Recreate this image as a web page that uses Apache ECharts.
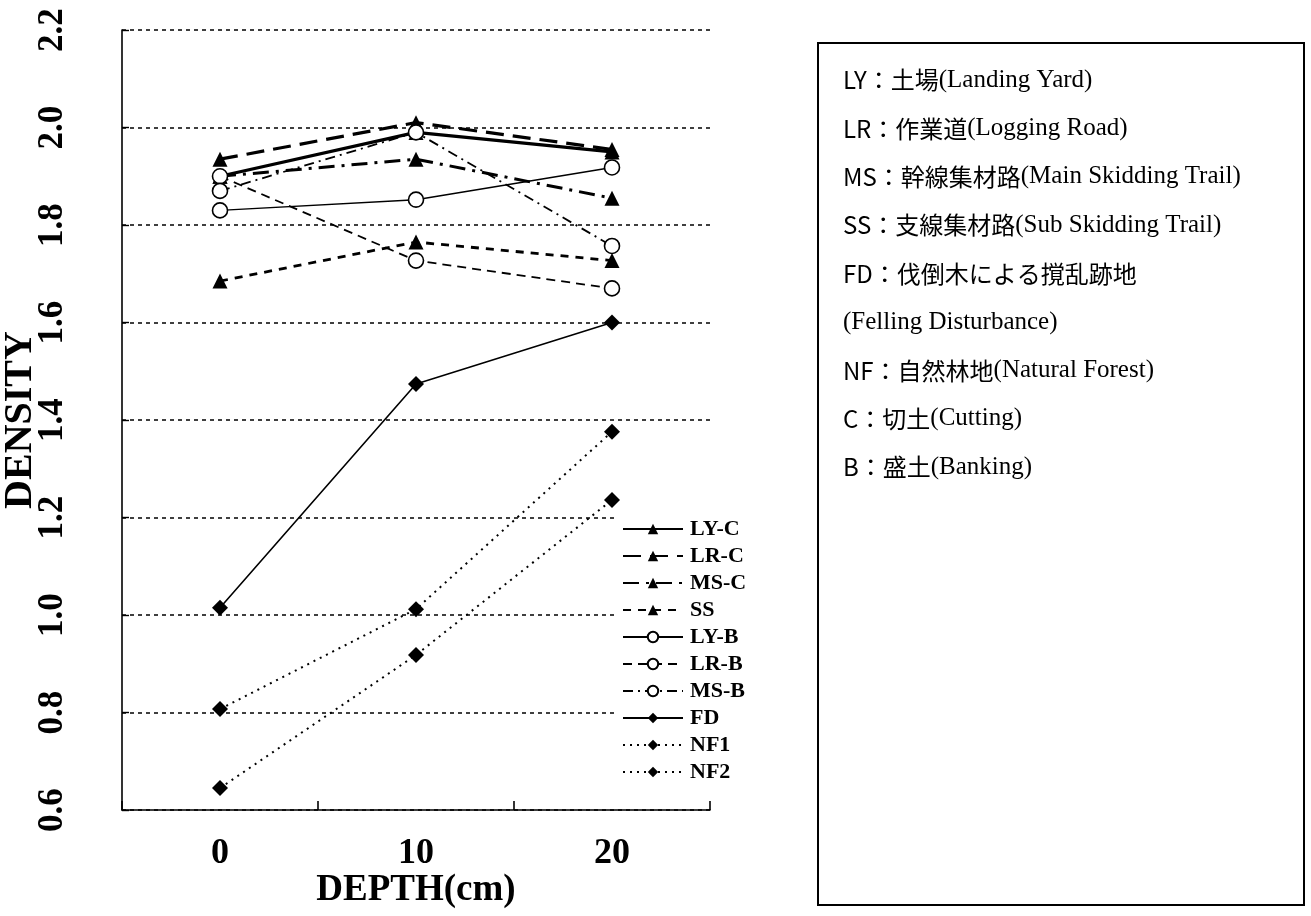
<!DOCTYPE html>
<html>
<head>
<meta charset="utf-8">
<script src="https://cdn.jsdelivr.net/npm/echarts@6/dist/echarts.min.js"></script>
<style>
  html, body { margin: 0; padding: 0; background: #fff; }
  #chart { width: 1311px; height: 916px; }
</style>
</head>
<body>
<div id="chart"></div>
<script>
// Soil bulk density by depth for each site type
const depthLabels = ['0', '10', '20'];

const lyC = [1.90, 1.99, 1.95];
const lrC = [1.935, 2.01, 1.955];
const msC = [1.90, 1.935, 1.855];
const ss  = [1.685, 1.765, 1.727];
const lyB = [1.83, 1.852, 1.918];
const lrB = [1.90, 1.727, 1.67];
const msB = [1.87, 1.99, 1.757];
const fd  = [1.015, 1.474, 1.60];
const nf1 = [0.807, 1.012, 1.376];
const nf2 = [0.645, 0.918, 1.236];

const densityTicks = { min: 0.6, max: 2.2, step: 0.2 };

// Site abbreviations shown in the side panel: [abbreviation part, English part]
const noteLines = [
  ['LY：土場', '(Landing Yard)'],
  ['LR：作業道', '(Logging Road)'],
  ['MS：幹線集材路', '(Main Skidding Trail)'],
  ['SS：支線集材路', '(Sub Skidding Trail)'],
  ['FD：伐倒木による撹乱跡地', ''],
  ['', '(Felling Disturbance)'],
  ['NF：自然林地', '(Natural Forest)'],
  ['C：切土', '(Cutting)'],
  ['B：盛土', '(Banking)']
];

const SERIF = "'Liberation Serif', 'Times New Roman', serif";
const SANS = "'Noto Sans CJK JP', 'Noto Sans', sans-serif";

function lineSeries(name, data, symbol, filled, width, dash) {
  return {
    name: name,
    type: 'line',
    data: data,
    symbol: symbol,
    symbolSize: symbol === 'circle' ? 15 : (symbol === 'diamond' ? 16 : 15),
    showSymbol: true,
    lineStyle: { color: '#000', width: width, type: dash },
    itemStyle: filled
      ? { color: '#000', borderColor: '#000', borderWidth: 0 }
      : { color: '#fff', borderColor: '#000', borderWidth: 1.6 },
    emphasis: { disabled: true },
    animation: false
  };
}

const series = [
  lineSeries('LY-C', lyC, 'triangle', true, 3.2, 'solid'),
  lineSeries('LR-C', lrC, 'triangle', true, 3.2, [18, 9]),
  lineSeries('MS-C', msC, 'triangle', true, 3, [16, 7, 3, 7]),
  lineSeries('SS', ss, 'triangle', true, 2.8, [8, 7]),
  lineSeries('LY-B', lyB, 'circle', false, 1.5, 'solid'),
  lineSeries('LR-B', lrB, 'circle', false, 1.8, [9, 6]),
  lineSeries('MS-B', msB, 'circle', false, 1.8, [10, 5, 2, 5]),
  lineSeries('FD', fd, 'diamond', true, 1.6, 'solid'),
  lineSeries('NF1', nf1, 'diamond', true, 2, [2, 5]),
  lineSeries('NF2', nf2, 'diamond', true, 2, [2, 5])
];

const noteElements = [
  {
    type: 'rect',
    shape: { x: 818, y: 43, width: 486, height: 862 },
    style: { fill: '#fff', stroke: '#000', lineWidth: 2 },
    silent: true
  }
];
noteLines.forEach(function (pair, i) {
  noteElements.push({
    type: 'text',
    x: 843,
    y: 80 + i * 48.4,
    silent: true,
    style: {
      text: (pair[0] ? '{a|' + pair[0] + '}' : '') + (pair[1] ? '{b|' + pair[1] + '}' : ''),
      verticalAlign: 'middle',
      align: 'left',
      rich: {
        a: { fontFamily: SANS, fontSize: 24, fill: '#000' },
        b: { fontFamily: SERIF, fontSize: 25, fill: '#000' }
      }
    }
  });
});

const chart = echarts.init(document.getElementById('chart'), null, { renderer: 'canvas' });
chart.setOption({
  backgroundColor: '#fff',
  animation: false,
  grid: { left: 122, top: 30, width: 588, height: 780, containLabel: false, outerBoundsMode: 'none' },
  xAxis: {
    type: 'category',
    data: depthLabels,
    boundaryGap: true,
    name: 'DEPTH(cm)',
    nameLocation: 'middle',
    nameGap: 62,
    nameMoveOverlap: false,
    nameTextStyle: { fontFamily: SERIF, fontWeight: 'bold', fontSize: 37, color: '#000' },
    axisLine: { lineStyle: { color: '#000', width: 1.6 } },
    axisTick: { show: true, inside: true, length: 9, lineStyle: { color: '#000', width: 1.6 } },
    axisLabel: { fontFamily: SERIF, fontWeight: 'bold', fontSize: 36, color: '#000', margin: 26 },
    splitLine: { show: false }
  },
  yAxis: {
    type: 'value',
    min: densityTicks.min,
    max: densityTicks.max,
    interval: densityTicks.step,
    name: 'DENSITY',
    nameLocation: 'middle',
    nameGap: 81,
    nameRotate: 90,
    nameMoveOverlap: false,
    nameTextStyle: { fontFamily: SERIF, fontWeight: 'bold', fontSize: 40, color: '#000' },
    axisLine: { show: true, lineStyle: { color: '#000', width: 1.6 } },
    axisTick: { show: true, inside: true, length: 7, lineStyle: { color: '#000', width: 1.4 } },
    axisLabel: {
      rotate: 90,
      margin: 52,
      fontFamily: SERIF,
      fontWeight: 'bold',
      fontSize: 35,
      color: '#000',
      formatter: function (v) { return v.toFixed(1); }
    },
    splitLine: { show: true, lineStyle: { color: '#000', width: 1.5, type: [4, 4] } }
  },
  legend: {
    orient: 'vertical',
    left: 616,
    top: 513,
    padding: [5, 6, 5, 6],
    backgroundColor: '#fff',
    itemWidth: 60,
    itemHeight: 13,
    itemGap: 5,
    textStyle: { fontFamily: SERIF, fontWeight: 'bold', fontSize: 22, color: '#000', padding: [0, 0, 0, 2] },
    data: series.map(function (s) { return s.name; }),
    selectedMode: false
  },
  series: series,
  graphic: { elements: noteElements }
});
</script>
</body>
</html>
